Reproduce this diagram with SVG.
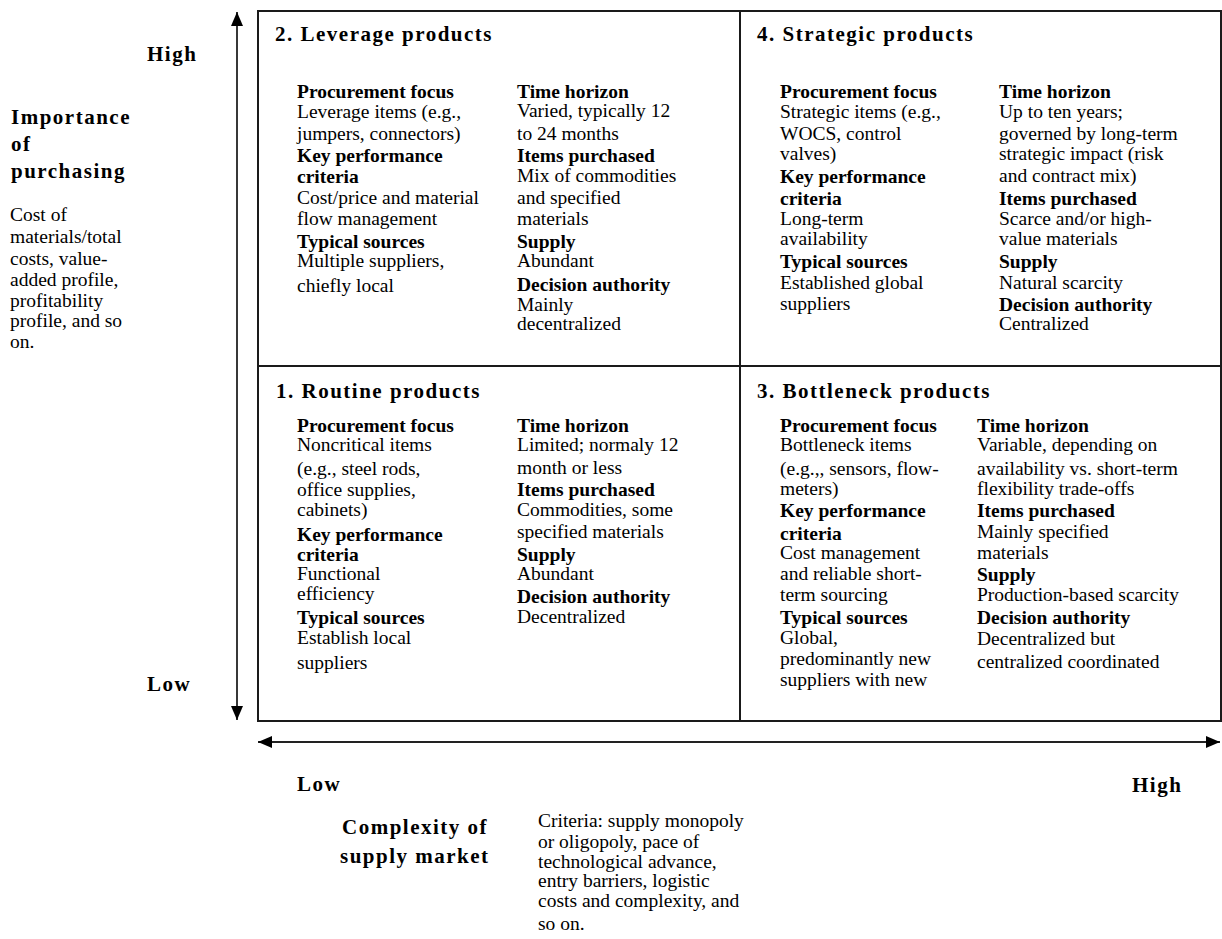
<svg xmlns="http://www.w3.org/2000/svg" width="1222" height="939" viewBox="0 0 1222 939">
  <defs>
    <style>
      text { font-family: "Liberation Serif", "Times New Roman", serif; fill: #000; }
      .t { font-size: 21px; font-weight: bold; letter-spacing: 1.5px; }
      .h { font-size: 19.5px; font-weight: bold; }
      .b { font-size: 19.5px; }
      .grid { fill: none; stroke: #1a1a1a; stroke-width: 2; }
      .axis { stroke: #222; stroke-width: 1.8; fill: none; }
    </style>
    <marker id="head" viewBox="0 0 14 12" refX="14" refY="6" markerWidth="14" markerHeight="12" markerUnits="userSpaceOnUse" orient="auto-start-reverse">
      <path d="M0,0 L14,6 L0,12 z" fill="#000"/>
    </marker>
  </defs>

  <rect width="1222" height="939" fill="#fff"/>

  <!-- matrix frame -->
  <g id="frame">
    <rect class="grid" x="258" y="11" width="963" height="710"/>
    <line class="grid" x1="740" y1="11" x2="740" y2="721"/>
    <line class="grid" x1="258" y1="366" x2="1221" y2="366"/>
  </g>

  <!-- axes -->
  <g id="connectors">
    <line class="axis" x1="237" y1="720" x2="237" y2="12" marker-start="url(#head)" marker-end="url(#head)"/>
    <line class="axis" x1="258" y1="742" x2="1220" y2="742" marker-start="url(#head)" marker-end="url(#head)"/>
  </g>

  <!-- vertical axis labels -->
  <g id="y-axis-labels">
    <text class="t" x="147" y="61">High</text>
    <text class="t" x="147" y="691">Low</text>
    <text class="t" x="11" y="124">Importance</text>
    <text class="t" x="11" y="151">of</text>
    <text class="t" x="11" y="178">purchasing</text>
    <text class="b" x="10">
      <tspan x="10" y="221">Cost of</tspan>
      <tspan x="10" y="243">materials/total</tspan>
      <tspan x="10" y="265">costs, value-</tspan>
      <tspan x="10" y="286">added profile,</tspan>
      <tspan x="10" y="307">profitability</tspan>
      <tspan x="10" y="327">profile, and so</tspan>
      <tspan x="10" y="348">on.</tspan>
    </text>
  </g>

  <!-- horizontal axis labels -->
  <g id="x-axis-labels">
    <text class="t" x="297" y="791">Low</text>
    <text class="t" x="1132" y="792">High</text>
    <text class="t" x="342" y="834">Complexity of</text>
    <text class="t" x="340" y="863">supply market</text>
    <text class="b">
      <tspan x="538" y="827">Criteria: supply monopoly</tspan>
      <tspan x="538" y="848">or oligopoly, pace of</tspan>
      <tspan x="538" y="868">technological advance,</tspan>
      <tspan x="538" y="887">entry barriers, logistic</tspan>
      <tspan x="538" y="907">costs and complexity, and</tspan>
      <tspan x="538" y="930">so on.</tspan>
    </text>
  </g>

  <!-- quadrant 2: leverage -->
  <g id="q2-leverage">
    <text class="t" x="275" y="41">2. Leverage products</text>
    <text class="h" x="297" y="98">Procurement focus</text>
    <text class="b" x="297" y="118">Leverage items (e.g.,</text>
    <text class="b" x="297" y="140">jumpers, connectors)</text>
    <text class="h" x="297" y="162">Key performance</text>
    <text class="h" x="297" y="183">criteria</text>
    <text class="b" x="297" y="204">Cost/price and material</text>
    <text class="b" x="297" y="225">flow management</text>
    <text class="h" x="297" y="248">Typical sources</text>
    <text class="b" x="297" y="267">Multiple suppliers,</text>
    <text class="b" x="297" y="292">chiefly local</text>

    <text class="h" x="517" y="98">Time horizon</text>
    <text class="b" x="517" y="117">Varied, typically 12</text>
    <text class="b" x="517" y="140">to 24 months</text>
    <text class="h" x="517" y="162">Items purchased</text>
    <text class="b" x="517" y="182">Mix of commodities</text>
    <text class="b" x="517" y="204">and specified</text>
    <text class="b" x="517" y="225">materials</text>
    <text class="h" x="517" y="248">Supply</text>
    <text class="b" x="517" y="267">Abundant</text>
    <text class="h" x="517" y="291">Decision authority</text>
    <text class="b" x="517" y="311">Mainly</text>
    <text class="b" x="517" y="330">decentralized</text>
  </g>

  <!-- quadrant 4: strategic -->
  <g id="q4-strategic">
    <text class="t" x="757" y="41">4. Strategic products</text>
    <text class="h" x="780" y="98">Procurement focus</text>
    <text class="b" x="780" y="118">Strategic items (e.g.,</text>
    <text class="b" x="780" y="140">WOCS, control</text>
    <text class="b" x="780" y="160">valves)</text>
    <text class="h" x="780" y="183">Key performance</text>
    <text class="h" x="780" y="205">criteria</text>
    <text class="b" x="780" y="225">Long-term</text>
    <text class="b" x="780" y="245">availability</text>
    <text class="h" x="780" y="268">Typical sources</text>
    <text class="b" x="780" y="289">Established global</text>
    <text class="b" x="780" y="310">suppliers</text>

    <text class="h" x="999" y="98">Time horizon</text>
    <text class="b" x="999" y="118">Up to ten years;</text>
    <text class="b" x="999" y="140">governed by long-term</text>
    <text class="b" x="999" y="160">strategic impact (risk</text>
    <text class="b" x="999" y="182">and contract mix)</text>
    <text class="h" x="999" y="205">Items purchased</text>
    <text class="b" x="999" y="225">Scarce and/or high-</text>
    <text class="b" x="999" y="245">value materials</text>
    <text class="h" x="999" y="268">Supply</text>
    <text class="b" x="999" y="289">Natural scarcity</text>
    <text class="h" x="999" y="311">Decision authority</text>
    <text class="b" x="999" y="330">Centralized</text>
  </g>

  <!-- quadrant 1: routine -->
  <g id="q1-routine">
    <text class="t" x="276" y="398">1. Routine products</text>
    <text class="h" x="297" y="432">Procurement focus</text>
    <text class="b" x="297" y="451">Noncritical items</text>
    <text class="b" x="297" y="475">(e.g., steel rods,</text>
    <text class="b" x="297" y="496">office supplies,</text>
    <text class="b" x="297" y="516">cabinets)</text>
    <text class="h" x="297" y="541">Key performance</text>
    <text class="h" x="297" y="561">criteria</text>
    <text class="b" x="297" y="580">Functional</text>
    <text class="b" x="297" y="600">efficiency</text>
    <text class="h" x="297" y="624">Typical sources</text>
    <text class="b" x="297" y="644">Establish local</text>
    <text class="b" x="297" y="669">suppliers</text>

    <text class="h" x="517" y="432">Time horizon</text>
    <text class="b" x="517" y="451">Limited; normaly 12</text>
    <text class="b" x="517" y="474">month or less</text>
    <text class="h" x="517" y="496">Items purchased</text>
    <text class="b" x="517" y="516">Commodities, some</text>
    <text class="b" x="517" y="538">specified materials</text>
    <text class="h" x="517" y="561">Supply</text>
    <text class="b" x="517" y="580">Abundant</text>
    <text class="h" x="517" y="603">Decision authority</text>
    <text class="b" x="517" y="623">Decentralized</text>
  </g>

  <!-- quadrant 3: bottleneck -->
  <g id="q3-bottleneck">
    <text class="t" x="757" y="398">3. Bottleneck products</text>
    <text class="h" x="780" y="432">Procurement focus</text>
    <text class="b" x="780" y="451">Bottleneck items</text>
    <text class="b" x="780" y="475">(e.g.,, sensors, flow-</text>
    <text class="b" x="780" y="495">meters)</text>
    <text class="h" x="780" y="517">Key performance</text>
    <text class="h" x="780" y="540">criteria</text>
    <text class="b" x="780" y="559">Cost management</text>
    <text class="b" x="780" y="580">and reliable short-</text>
    <text class="b" x="780" y="601">term sourcing</text>
    <text class="h" x="780" y="624">Typical sources</text>
    <text class="b" x="780" y="644">Global,</text>
    <text class="b" x="780" y="665">predominantly new</text>
    <text class="b" x="780" y="686">suppliers with new</text>

    <text class="h" x="977" y="432">Time horizon</text>
    <text class="b" x="977" y="451">Variable, depending on</text>
    <text class="b" x="977" y="475">availability vs. short-term</text>
    <text class="b" x="977" y="495">flexibility trade-offs</text>
    <text class="h" x="977" y="517">Items purchased</text>
    <text class="b" x="977" y="538">Mainly specified</text>
    <text class="b" x="977" y="559">materials</text>
    <text class="h" x="977" y="581">Supply</text>
    <text class="b" x="977" y="601">Production-based scarcity</text>
    <text class="h" x="977" y="624">Decision authority</text>
    <text class="b" x="977" y="645">Decentralized but</text>
    <text class="b" x="977" y="668">centralized coordinated</text>
  </g>
</svg>
